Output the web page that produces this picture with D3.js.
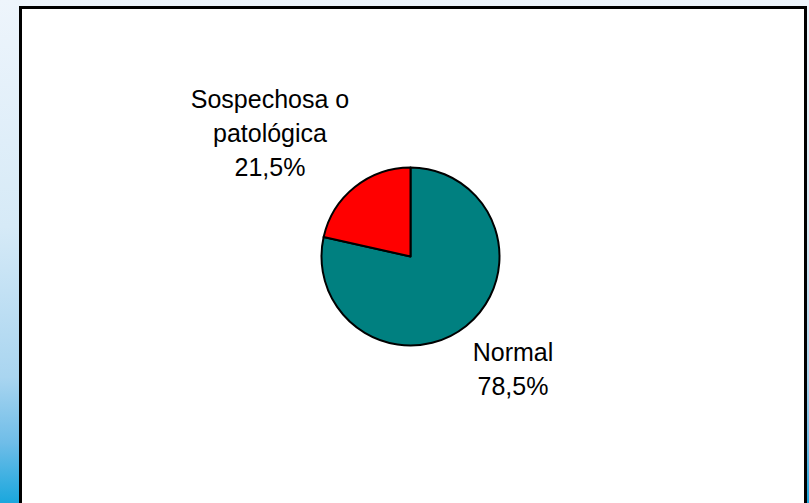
<!DOCTYPE html>
<html>
<head>
<meta charset="utf-8">
<script src="https://cdn.jsdelivr.net/npm/d3@7"></script>
<style>
html,body{margin:0;padding:0;overflow:hidden;}
svg{display:block;}
</style>
</head>
<body>
<script>
const categories = ["Normal", "Sospechosa o patológica"];
const values = [78.5, 21.5];
const valueLabels = ["78,5%", "21,5%"];
const colors = ["#008080", "#FF0000"];

const W = 809, H = 503;
const svg = d3.select("body").append("svg").attr("width", W).attr("height", H);
const defs = svg.append("defs");
const g1 = defs.append("linearGradient").attr("id", "bg").attr("x1", 0).attr("y1", 0).attr("x2", 0).attr("y2", 1);
[[0, "#eef5fc"], [0.45, "#d6eaf7"], [0.75, "#a9d5f0"], [0.88, "#6fbde8"], [1, "#1aa7dd"]].forEach(s =>
  g1.append("stop").attr("offset", s[0]).attr("stop-color", s[1]));
svg.append("rect").attr("width", W).attr("height", H).attr("fill", "url(#bg)");

svg.append("rect").attr("x", 20.5).attr("y", 7.5).attr("width", 785).attr("height", 510)
  .attr("fill", "#fff").attr("stroke", "#000").attr("stroke-width", 3);

const cx = 410.5, cy = 256.5, r = 89;
const pie = d3.pie().sort(null).value(d => d)(values);
const arc = d3.arc().innerRadius(0).outerRadius(r);
const gp = svg.append("g").attr("transform", `translate(${cx},${cy})`);
gp.selectAll("path").data(pie).join("path")
  .attr("d", arc).attr("fill", (d, i) => colors[i])
  .attr("stroke", "#000").attr("stroke-width", 2).attr("stroke-linejoin", "round");

const labelPos = [[513, 343], [270, 90]];
const labelLines = [
  ["Normal", valueLabels[0]],
  ["Sospechosa o", "patológica", valueLabels[1]]
];
const fs = 25, lh = 34;
labelLines.forEach((lines, i) => {
  const t = svg.append("text").attr("text-anchor", "middle")
    .attr("font-family", "Liberation Sans, Arial, sans-serif").attr("font-size", fs).attr("fill", "#000");
  lines.forEach((ln, j) => {
    t.append("tspan").attr("x", labelPos[i][0]).attr("y", labelPos[i][1] + 18 + j * lh).text(ln);
  });
});
</script>
</body>
</html>
